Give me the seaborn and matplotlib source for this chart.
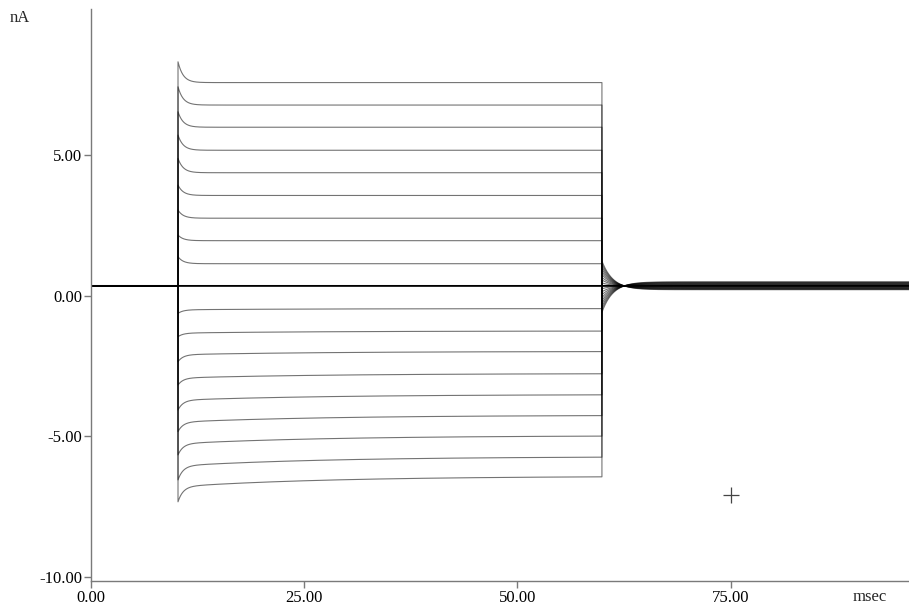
import numpy as np
import pandas as pd
import matplotlib
matplotlib.use("Agg")
import matplotlib.pyplot as plt
import seaborn as sns

# ---- data (currents in nA, time in msec) ----
t_on_ms = 10.2
t_off_ms = 59.9
t_end_ms = 95.9
baseline_nA = 0.35
# transient peak right after the voltage step
peak_nA = [8.33, 7.44, 6.55, 5.72, 4.89, 3.94, 3.05, 2.16, 1.39, 0.35,
           -0.63, -1.46, -2.35, -3.18, -4.07, -4.84, -5.67, -6.56, -7.34]
# plateau just after the fast transient
early_nA = [7.59, 6.79, 6.00, 5.18, 4.38, 3.57, 2.76, 1.96, 1.14, 0.35,
            -0.50, -1.33, -2.10, -2.93, -3.72, -4.50, -5.27, -6.06, -6.80]
# plateau at the end of the step
end_nA = [7.59, 6.79, 6.00, 5.18, 4.38, 3.57, 2.76, 1.96, 1.14, 0.35,
          -0.46, -1.26, -1.99, -2.78, -3.53, -4.27, -5.00, -5.75, -6.45]
tau_fast_ms = 0.6
tau_slow_ms = 18.0
tail_ratio = 0.15      # off-transient size relative to the step
tau_tail_ms = 1.3
band_ratio = 0.02      # residual spread of traces after the step
cursor_x = [75.0]
cursor_y = [-7.10]
x_ticks = [0, 25, 50, 75]
y_ticks = [-10, -5, 0, 5]

# ---- build traces ----
dt = 0.02
rows = []
D = t_off_ms - t_on_ms
for k, (pk, e0, e1) in enumerate(zip(peak_nA, early_nA, end_nA)):
    t_pre = np.arange(0.0, t_on_ms + 1e-9, dt)
    i_pre = np.full_like(t_pre, baseline_nA)
    t_step = np.arange(t_on_ms, t_off_ms + 1e-9, dt)
    d = t_step - t_on_ms
    w = (np.exp(-d / tau_slow_ms) - np.exp(-D / tau_slow_ms)) / (1 - np.exp(-D / tau_slow_ms))
    plateau = e1 + (e0 - e1) * w
    i_step = plateau + (pk - e0) * np.exp(-d / tau_fast_ms)
    step = e1 - baseline_nA
    t_post = np.arange(t_off_ms, t_end_ms + 1e-9, dt)
    i_post = (baseline_nA + band_ratio * step
              - tail_ratio * step * np.exp(-(t_post - t_off_ms) / tau_tail_ms))
    t_all = np.concatenate([t_pre, t_step, t_post])
    i_all = np.concatenate([i_pre, i_step, i_post])
    rows.append(pd.DataFrame({"t": t_all, "I": i_all, "trace": k}))
df = pd.concat(rows, ignore_index=True)
zero_idx = 9

# ---- plot ----
sns.set_style("ticks")
plt.rcParams["font.family"] = ["Liberation Serif", "DejaVu Serif"]
plt.rcParams["axes.unicode_minus"] = False

fig = plt.figure(figsize=(9.09, 6.08), dpi=100)
ax = fig.add_axes([91 / 909, 27 / 608, 1 - 91 / 909, (581 - 9.3) / 608])

sns.lineplot(data=df, x="t", y="I", units="trace", estimator=None, sort=False,
             color="black", alpha=0.55, linewidth=0.8, ax=ax, legend=False)
sns.lineplot(data=df[df["trace"] == zero_idx], x="t", y="I", estimator=None,
             sort=False, color="black", linewidth=1.3, ax=ax, legend=False)
sns.scatterplot(x=cursor_x, y=cursor_y, marker="+", s=120, color="#444444",
                linewidth=0.9, ax=ax, legend=False)

ax.set_xlim(0, t_end_ms)
ax.set_ylim(-10.16, 10.2)
ax.set_xticks(x_ticks)
ax.set_yticks(y_ticks)
ax.set_xticklabels([f"{v:.2f}" for v in x_ticks])
ax.set_yticklabels([f"{v:.2f}" for v in y_ticks])
ax.set_xlabel("")
ax.set_ylabel("")
for s in ("top", "right"):
    ax.spines[s].set_visible(False)
for s in ("left", "bottom"):
    ax.spines[s].set_color("#7a7a7a")
    ax.spines[s].set_linewidth(1.0)
ax.tick_params(axis="both", length=5, width=1.0, color="#7a7a7a",
               labelsize=12, labelcolor="black", pad=1.5)

fig.text(10 / 909, 1 - 18 / 608, "nA", fontsize=12, va="center", ha="left")
fig.text(870 / 909, 1 - 597 / 608, "msec", fontsize=12, va="center", ha="center")

fig.savefig("out.png", dpi=100)
